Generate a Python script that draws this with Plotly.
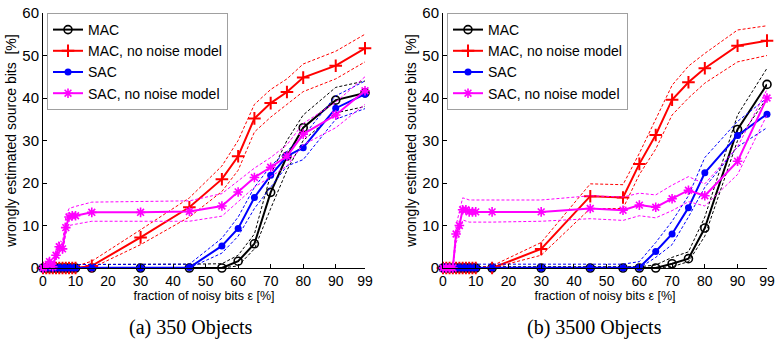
import plotly.graph_objects as go

# noise fraction epsilon [%]
X = [0, 1, 2, 3, 4, 5, 6, 7, 8, 9, 10, 15, 30, 45, 55, 60, 65, 70, 75, 80, 90, 99]
X_TICKS = [0, 10, 20, 30, 40, 50, 60, 70, 80, 90, 99]
Y_TICKS = [0, 10, 20, 30, 40, 50, 60]

SERIES = ["MAC", "MAC, no noise model", "SAC", "SAC, no noise model"]

# (a) 350 objects
A_MAC    = [0, 0, 0, 0, 0, 0, 0, 0, 0, 0, 0, 0, 0, 0, 0, 1.6, 5.7, 17.8, 26.3, 33.0, 39.5, 41.2]
A_MAC_HI = [0.8, 0.8, 0.8, 0.8, 0.8, 0.8, 0.8, 0.8, 0.8, 0.8, 0.8, 0.8, 0.8, 0.9, 1.0, 3.0, 8.0, 22.0, 30.0, 36.0, 42.5, 44.0]
A_MAC_LO = [0, 0, 0, 0, 0, 0, 0, 0, 0, 0, 0, 0, 0, 0, 0, 0.5, 4.5, 14.0, 23.0, 30.0, 36.5, 38.0]
A_RED    = [0, 0, 0, 0, 0, 0, 0, 0, 0, 0, 0, 0.5, 7.2, 14.3, 20.9, 26.3, 35.2, 38.8, 41.4, 44.8, 47.6, 51.7]
A_RED_HI = [0, 0, 0, 0, 0, 0, 0, 0, 0, 0, 0.4, 1.6, 9.0, 16.5, 24.0, 30.0, 38.5, 42.0, 44.5, 48.0, 51.0, 55.0]
A_RED_LO = [0, 0, 0, 0, 0, 0, 0, 0, 0, 0, 0, 0, 5.5, 12.0, 18.0, 23.0, 32.0, 35.5, 38.5, 41.5, 44.5, 48.5]
A_SAC    = [0, 0, 0, 0, 0, 0, 0, 0, 0, 0, 0, 0, 0, 0.1, 5.2, 9.3, 16.6, 21.8, 26.3, 28.3, 37.6, 40.9]
A_SAC_HI = [0.8, 0.8, 0.8, 0.8, 0.8, 0.8, 0.8, 0.8, 0.8, 0.8, 0.8, 0.8, 0.8, 0.9, 7.0, 12.0, 19.0, 24.0, 27.5, 31.0, 40.5, 44.0]
A_SAC_LO = [0, 0, 0, 0, 0, 0, 0, 0, 0, 0, 0, 0, 0, 0, 3.5, 7.5, 14.0, 19.0, 24.0, 25.5, 35.0, 37.5]
A_MAG    = [0, 0.5, 1.5, 0.3, 3.0, 5.0, 4.5, 9.5, 12.0, 12.3, 12.3, 13.1, 13.1, 13.3, 14.6, 17.9, 21.3, 23.7, 26.3, 31.5, 36.0, 41.7]
A_MAG_HI = [0, 1.0, 2.5, 1.0, 4.5, 6.5, 6.0, 12.0, 14.0, 14.3, 14.5, 15.5, 15.7, 15.8, 17.5, 20.5, 23.5, 26.0, 29.0, 34.0, 39.0, 45.0]
A_MAG_LO = [0, 0, 0.5, 0, 2.0, 3.5, 3.5, 8.0, 10.0, 10.2, 10.3, 11.0, 11.0, 11.0, 12.2, 15.5, 19.0, 21.5, 24.0, 29.0, 33.0, 38.5]

# (b) 3500 objects
B_MAC    = [0, 0, 0, 0, 0, 0, 0, 0, 0, 0, 0, 0, 0, 0, 0, 0, 0, 1.0, 2.2, 9.4, 32.6, 43.2]
B_MAC_HI = [0.3, 0.3, 0.3, 0.3, 0.3, 0.3, 0.3, 0.3, 0.3, 0.3, 0.3, 0.3, 0.3, 0.3, 0.3, 0.3, 0.7, 2.5, 3.8, 12.0, 36.0, 47.0]
B_MAC_LO = [0, 0, 0, 0, 0, 0, 0, 0, 0, 0, 0, 0, 0, 0, 0, 0, 0, 0.3, 1.5, 7.5, 30.0, 40.0]
B_RED    = [0, 0, 0, 0, 0, 0, 0, 0, 0, 0, 0, 0, 4.5, 16.9, 16.6, 24.5, 31.3, 39.6, 43.7, 47.0, 52.3, 53.5]
B_RED_HI = [0, 0, 0, 0, 0, 0, 0, 0, 0, 0, 0, 0.5, 6.0, 19.8, 19.6, 27.0, 35.0, 43.0, 47.5, 50.5, 56.0, 57.0]
B_RED_LO = [0, 0, 0, 0, 0, 0, 0, 0, 0, 0, 0, 0, 3.0, 14.0, 14.0, 22.0, 28.0, 36.0, 40.0, 43.5, 48.5, 50.0]
B_SAC    = [0, 0, 0, 0, 0, 0, 0, 0, 0, 0, 0, 0, 0, 0, 0, 0.1, 3.9, 8.0, 14.2, 22.4, 31.2, 36.2]
B_SAC_HI = [0.9, 0.9, 0.9, 0.9, 0.9, 0.9, 0.9, 0.9, 0.9, 0.9, 0.9, 0.9, 0.9, 0.9, 0.9, 1.5, 6.0, 11.0, 17.0, 26.0, 34.5, 40.0]
B_SAC_LO = [0, 0, 0, 0, 0, 0, 0, 0, 0, 0, 0, 0, 0, 0, 0, 0, 2.5, 5.5, 12.0, 19.0, 28.5, 33.0]
B_MAG    = [0, 0, 0, 0, 8.0, 10.0, 13.7, 13.7, 13.2, 13.2, 13.2, 13.2, 13.2, 14.0, 13.6, 14.8, 14.3, 16.3, 18.3, 17.0, 25.1, 40.0]
B_MAG_HI = [0, 0, 0, 0, 10.0, 13.0, 16.5, 16.3, 16.0, 16.0, 16.0, 16.0, 16.0, 17.0, 16.7, 17.6, 17.2, 19.5, 21.5, 19.8, 28.5, 42.0]
B_MAG_LO = [0, 0, 0, 0, 6.0, 8.0, 11.3, 11.0, 10.8, 10.8, 10.8, 10.8, 11.0, 11.6, 11.2, 12.3, 11.8, 13.5, 15.6, 14.6, 22.0, 36.0]

CAPTIONS = ["(a) 350 Objects", "(b) 3500 Objects"]
X_TITLE = "fraction of noisy bits ε [%]"
Y_TITLE = "wrongly estimated source bits  [%]"

COLORS = ["#000000", "#ff0000", "#0000ff", "#ff00ff"]
MARKERS = [
    dict(symbol="circle-open", size=8, line=dict(width=1.6)),
    dict(symbol="cross-thin-open", size=9, line=dict(width=2)),
    dict(symbol="circle", size=7, line=dict(width=0)),
    dict(symbol="asterisk-open", size=8, line=dict(width=1.6)),
]

panels = [
    ([(A_MAC, A_MAC_HI, A_MAC_LO), (A_RED, A_RED_HI, A_RED_LO),
      (A_SAC, A_SAC_HI, A_SAC_LO), (A_MAG, A_MAG_HI, A_MAG_LO)], "x", "y", "legend"),
    ([(B_MAC, B_MAC_HI, B_MAC_LO), (B_RED, B_RED_HI, B_RED_LO),
      (B_SAC, B_SAC_HI, B_SAC_LO), (B_MAG, B_MAG_HI, B_MAG_LO)], "x2", "y2", "legend2"),
]

fig = go.Figure()
for data, xa, ya, lg in panels:
    for i, (mean, hi, lo) in enumerate(data):
        c = COLORS[i]
        for band in (hi, lo):
            fig.add_trace(go.Scatter(
                x=X, y=band, mode="lines", xaxis=xa, yaxis=ya,
                line=dict(color=c, width=1, dash="3px,2px"),
                showlegend=False, hoverinfo="skip", cliponaxis=False))
        mk = dict(MARKERS[i])
        mk["color"] = c
        if "line" in mk:
            mk["line"] = dict(mk["line"], color=c)
        fig.add_trace(go.Scatter(
            x=X, y=mean, mode="lines+markers", xaxis=xa, yaxis=ya,
            name=SERIES[i], legend=lg,
            line=dict(color=c, width=2), marker=mk, cliponaxis=False))

W, H = 775, 341
ytop, ybot = 13, 268
ydom = [1 - ybot / H, 1 - ytop / H]
xdoms = [[43 / W, 365 / W], [443 / W, 767 / W]]

SANS = "Liberation Sans, Arial, sans-serif"

def xaxis(dom, anchor):
    return dict(domain=dom, anchor=anchor, range=[0, 99], tickvals=X_TICKS,
                ticktext=[str(t) for t in X_TICKS], ticks="inside", ticklen=4,
                tickcolor="#000", showline=True, linecolor="#000", linewidth=1,
                showgrid=False, zeroline=False, automargin=False,
                tickfont=dict(family=SANS, size=14, color="#000"),
                title=dict(text=X_TITLE, font=dict(family=SANS, size=12.5, color="#000"), standoff=0))

def yaxis(anchor):
    return dict(domain=ydom, anchor=anchor, range=[0, 60], tickvals=Y_TICKS,
                ticks="inside", ticklen=4, tickcolor="#000", showline=True,
                linecolor="#000", linewidth=1, showgrid=False, zeroline=False,
                automargin=False,
                tickfont=dict(family=SANS, size=15, color="#000"),
                title=dict(text=Y_TITLE, font=dict(family=SANS, size=14, color="#000"), standoff=2))

legbase = dict(bgcolor="white", bordercolor="#a0a0a0", borderwidth=1,
               font=dict(family=SANS, size=14, color="#000"),
               xanchor="left", yanchor="top", tracegroupgap=0, itemwidth=30)

capfont = dict(family="Liberation Serif, serif", size=20, color="#000")

fig.update_layout(
    width=W, height=H, margin=dict(l=0, r=0, t=0, b=0),
    paper_bgcolor="white", plot_bgcolor="white",
    xaxis=xaxis(xdoms[0], "y"), yaxis=yaxis("x"),
    xaxis2=xaxis(xdoms[1], "y2"), yaxis2=yaxis("x2"),
    legend=dict(legbase, x=47 / W, y=1 - 13 / H),
    legend2=dict(legbase, x=447 / W, y=1 - 13 / H),
    annotations=[
        dict(text=CAPTIONS[0], x=191 / W, y=1 - 327 / H, xref="paper", yref="paper",
             xanchor="center", yanchor="middle", showarrow=False, font=capfont),
        dict(text=CAPTIONS[1], x=594 / W, y=1 - 327 / H, xref="paper", yref="paper",
             xanchor="center", yanchor="middle", showarrow=False, font=capfont),
    ],
)

fig.write_html("out.html")
